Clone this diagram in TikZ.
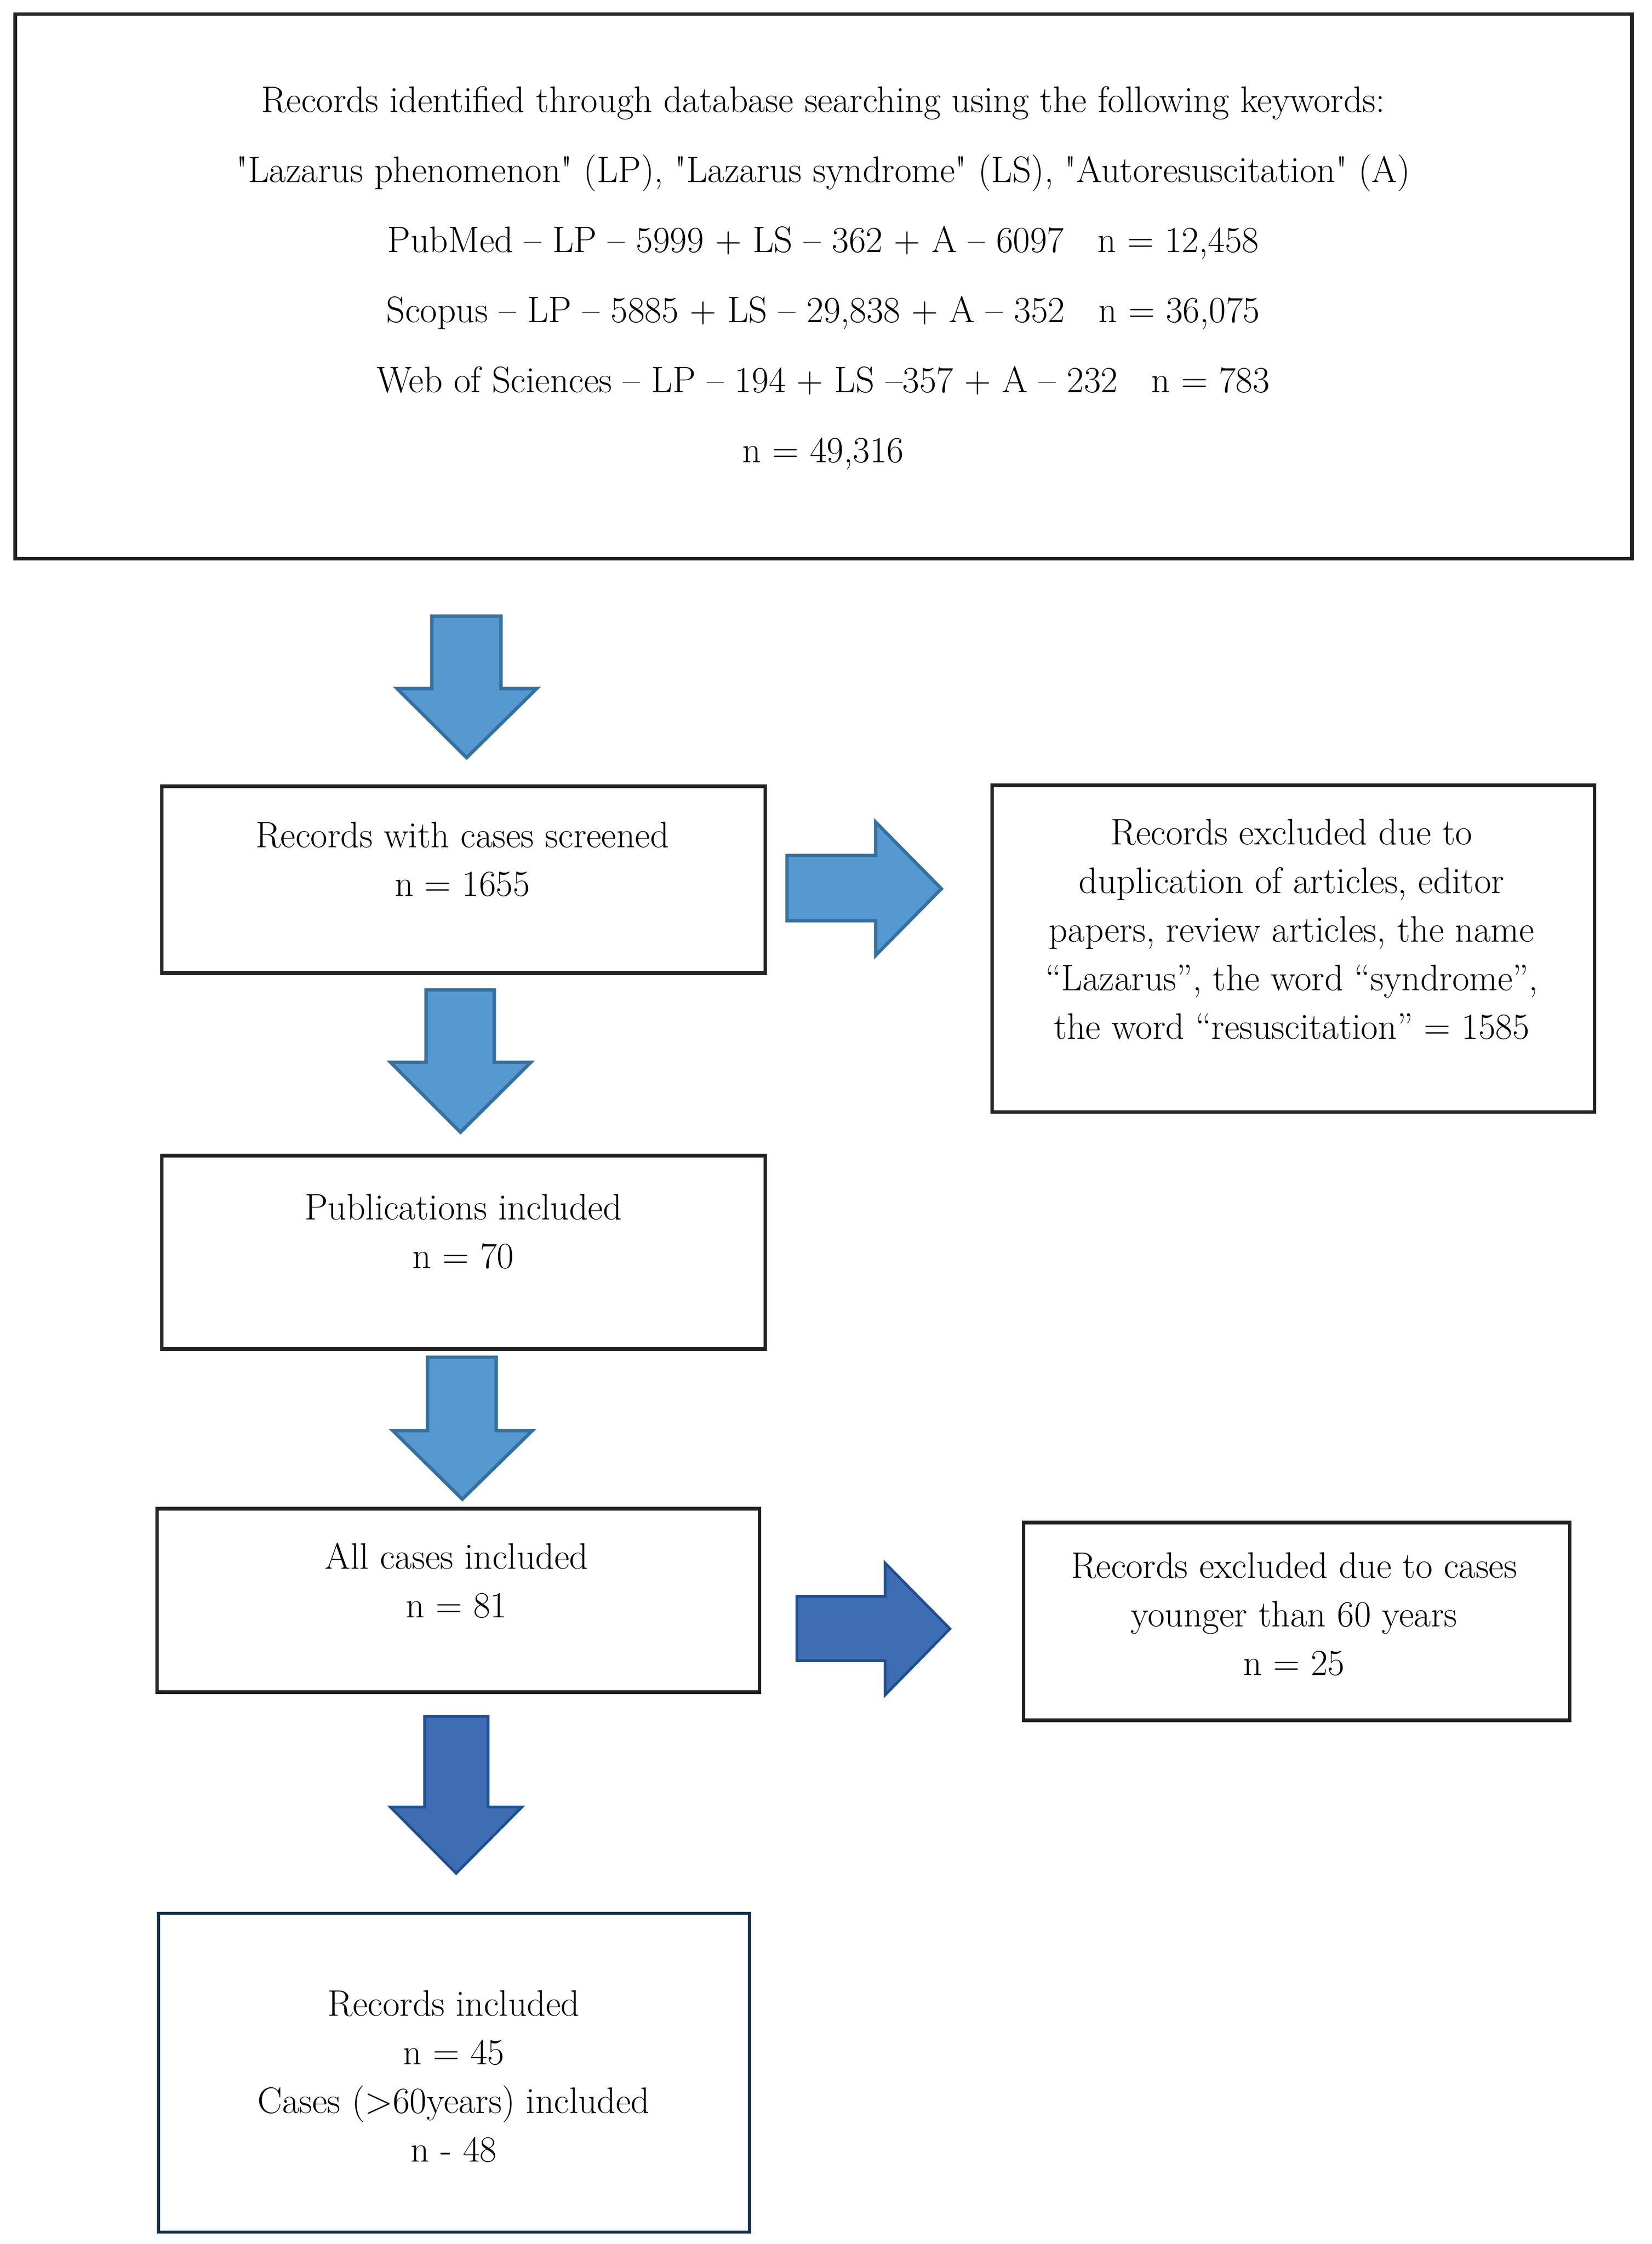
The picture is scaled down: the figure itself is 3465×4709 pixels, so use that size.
\documentclass[tikz,border=0pt]{standalone}
\usepackage{xcolor}
\definecolor{lightfill}{HTML}{5599D0}
\definecolor{lightline}{HTML}{36709E}
\definecolor{darkfill}{HTML}{3F6DB3}
\definecolor{darkline}{HTML}{1F4E91}
\definecolor{boxline}{HTML}{222222}
\definecolor{navyline}{HTML}{17324F}
\begin{document}
\begin{tikzpicture}[x=0.01cm,y=-0.01cm,
  box/.style={draw=boxline,line width=2.1pt,rectangle,inner sep=0pt},
  txt/.style={align=center,inner sep=0pt,font=\fontsize{22pt}{29pt}\selectfont},
  toptxt/.style={align=center,inner sep=0pt,font=\fontsize{22pt}{41.8pt}\selectfont},
  lightarrow/.style={fill=lightfill,draw=lightline,line width=2pt,line join=miter},
  darkarrow/.style={fill=darkfill,draw=darkline,line width=1.6pt,line join=miter}]
\useasboundingbox (0,0) rectangle (3465,4709);
\fill[white] (0,0) rectangle (3465,4709);

% boxes
\node[box,minimum width=33.9cm,minimum height=11.42cm] (top) at (1728,601) {};
\node[box,minimum width=12.65cm,minimum height=3.92cm] (screen) at (972.5,1846) {};
\node[box,minimum width=12.63cm,minimum height=6.85cm] (excl1) at (2713.5,1990.5) {};
\node[box,minimum width=12.65cm,minimum height=4.06cm] (pubs) at (972.5,2628) {};
\node[box,minimum width=12.63cm,minimum height=3.85cm] (allc) at (961.5,3358.5) {};
\node[box,minimum width=11.45cm,minimum height=4.15cm] (excl2) at (2720.5,3402.5) {};
\node[box,draw=navyline,line width=1.8pt,minimum width=12.39cm,minimum height=6.69cm] (incl) at (952.5,4349.5) {};

% texts
\node[toptxt] (toptext) at (1727,583) {Records identified through database searching using the following keywords:\\
\textquotedbl Lazarus phenomenon\textquotedbl{} (LP), \textquotedbl Lazarus syndrome\textquotedbl{} (LS), \textquotedbl Autoresuscitation\textquotedbl{} (A)\\
PubMed – LP – 5999 + LS – 362 + A – 6097 \ \ n = 12,458\\
Scopus – LP – 5885 + LS – 29,838 + A – 352 \ \ n = 36,075\\
Web of Sciences – LP – 194 + LS –357 + A – 232 \ \ n = 783\\
n = 49,316};
\node[txt] (screentext) at (970,1803) {Records with cases screened\\ n = 1655};
\node[txt] (excl1text) at (2710,1950) {Records excluded due to\\ duplication of articles, editor\\ papers, review articles, the name\\ “Lazarus”, the word “syndrome”,\\ the word “resuscitation” = 1585};
\node[txt] (pubstext) at (972,2584) {Publications included\\ n = 70};
\node[txt] (allctext) at (958,3317) {All cases included\\ n = 81};
\node[txt] (excl2text) at (2715,3387) {Records excluded due to cases\\ younger than 60 years\\ n = 25};
\node[txt] (incltext) at (952,4357) {Records included\\ n = 45\\ Cases (>60years) included\\ n - 48};

% block arrows
\draw[lightarrow] (906,1293) -- (1051,1293) -- (1051,1445) -- (1126,1445) -- (979,1590) -- (833,1445) -- (906,1445) -- cycle;
\draw[lightarrow] (894,2077) -- (1037,2077) -- (1037,2229) -- (1114,2229) -- (966,2376) -- (819,2229) -- (894,2229) -- cycle;
\draw[lightarrow] (897,2848) -- (1041,2848) -- (1041,3002) -- (1117,3002) -- (970,3146) -- (824,3002) -- (897,3002) -- cycle;
\draw[darkarrow] (891,3602) -- (1024,3602) -- (1024,3792) -- (1095,3792) -- (957,3931) -- (819,3792) -- (891,3792) -- cycle;
\draw[lightarrow] (1651,1795) -- (1837,1795) -- (1837,1725) -- (1975,1865) -- (1837,2005) -- (1837,1932) -- (1651,1932) -- cycle;
\draw[darkarrow] (1672,3350) -- (1857,3350) -- (1857,3280) -- (1993,3418) -- (1857,3557) -- (1857,3485) -- (1672,3485) -- cycle;
\end{tikzpicture}
\end{document}
